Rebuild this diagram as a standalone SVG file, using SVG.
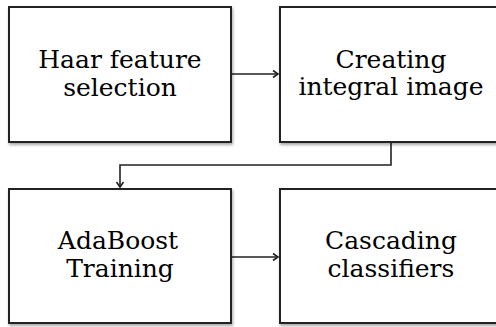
<svg xmlns="http://www.w3.org/2000/svg" width="496" height="327" viewBox="0 0 496 327">
<style>
.box{fill:#fff;stroke:#222;stroke-width:2;filter:url(#sh)}
.lbl{font-family:"DejaVu Serif","Liberation Serif",serif;font-size:25px;fill:#000;text-anchor:middle}
.con{fill:none;stroke:#222;stroke-width:1.6}
</style>
<defs>
<filter id="sh" x="-10%" y="-10%" width="120%" height="120%">
<feDropShadow dx="1" dy="2" stdDeviation="1.5" flood-color="#000" flood-opacity="0.35"/>
</filter>
<marker id="ah" markerWidth="10" markerHeight="10" refX="8" refY="5" orient="auto" markerUnits="userSpaceOnUse">
<path d="M3,1.5 L8,5 L3,8.5" fill="none" stroke="#222" stroke-width="1.6"/>
</marker>
</defs>
<rect width="496" height="327" fill="#fff"/>
<g id="connectors">
<path class="con" d="M231,74 H278" marker-end="url(#ah)"/>
<path class="con" d="M391,142 V165 H120 V187" marker-end="url(#ah)"/>
<path class="con" d="M231,257 H278" marker-end="url(#ah)"/>
</g>
<g id="haar">
<rect class="box" x="9" y="7" width="222" height="135"/>
<text class="lbl" x="120" y="68">Haar feature</text>
<text class="lbl" x="120" y="96">selection</text>
</g>
<g id="integral">
<rect class="box" x="280" y="7" width="222" height="135"/>
<text class="lbl" x="391" y="68">Creating</text>
<text class="lbl" x="391" y="95">integral image</text>
</g>
<g id="adaboost">
<rect class="box" x="9" y="189" width="222" height="134"/>
<text class="lbl" x="118" y="249">AdaBoost</text>
<text class="lbl" x="120" y="277">Training</text>
</g>
<g id="cascade">
<rect class="box" x="280" y="189" width="222" height="134"/>
<text class="lbl" x="391" y="249">Cascading</text>
<text class="lbl" x="391" y="277">classifiers</text>
</g>
</svg>
